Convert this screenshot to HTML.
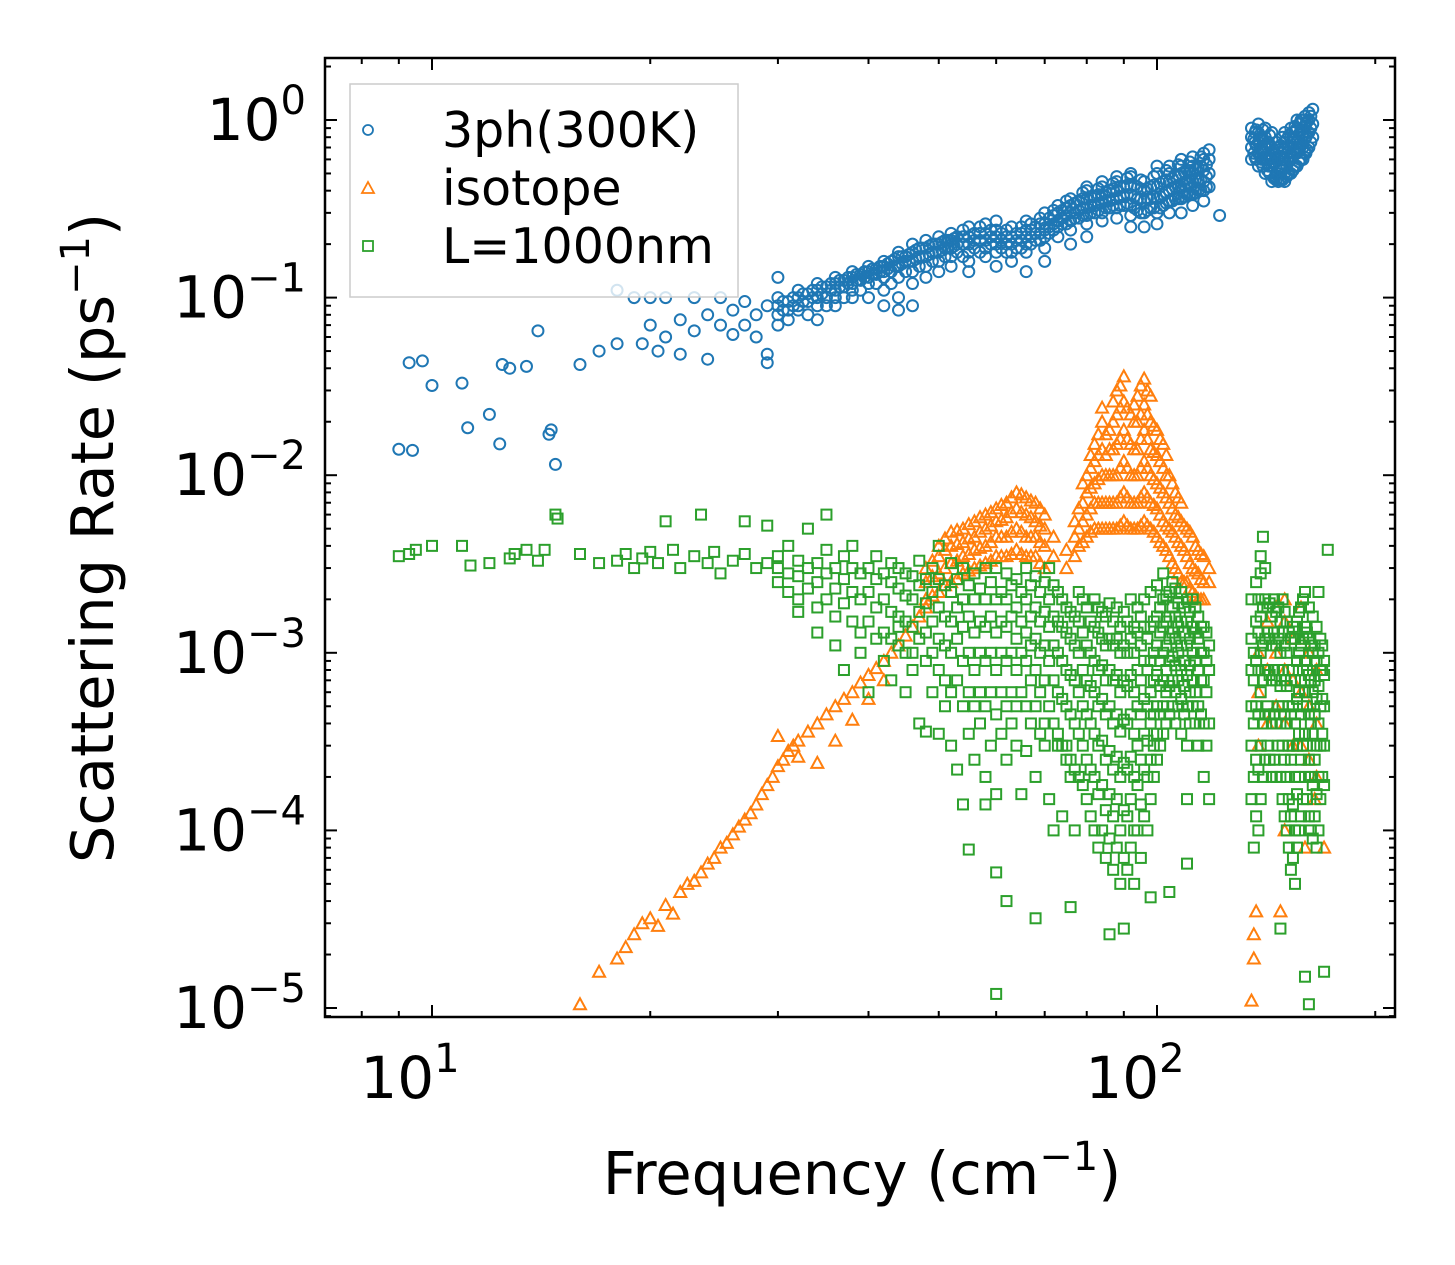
<!DOCTYPE html>
<html><head><meta charset="utf-8"><style>
body{margin:0;background:#fff;}
svg{display:block;font-family:"DejaVu Sans","Liberation Sans",sans-serif;}
</style></head><body>
<svg id="chart" width="1455" height="1265" viewBox="0 0 1455 1265" xmlns="http://www.w3.org/2000/svg">
<rect width="1455" height="1265" fill="#fff"/>
<g id="marks"></g>
<g id="axes"></g>
<g id="legend">
<rect x="350" y="84" width="388" height="213" fill="#fff" fill-opacity="0.8" stroke="#ccc" stroke-width="1.5"/>
<circle cx="368" cy="130" r="5" fill="none" stroke="#1f77b4" stroke-width="1.8"/>
<text x="442" y="147" font-size="49">3ph(300K)</text>
<polygon points="368,182 374,193 362,193" fill="none" stroke="#ff7f0e" stroke-width="1.8"/>
<text x="442" y="205" font-size="49">isotope</text>
<rect x="363" y="241" width="10" height="10" fill="none" stroke="#2ca02c" stroke-width="1.8"/>
<text x="442" y="263" font-size="49">L=1000nm</text>
</g>
<text x="862" y="1194" font-size="59" text-anchor="middle">Frequency (cm<tspan dy="-24" font-size="40">−1</tspan><tspan dy="24">)</tspan></text>
<text transform="translate(113,538) rotate(-90)" font-size="59" text-anchor="middle">Scattering Rate (ps<tspan dy="-24" font-size="40">−1</tspan><tspan dy="24">)</tspan></text>
</svg>
<script>
// Blue: 3-phonon scattering, sparse points [freq, rate]
const bluePts = [[9.0,0.014],[9.4,0.0138],[9.3,0.043],[9.7,0.044],[10,0.032],[11,0.033],[11.2,0.0185],[12,0.022],[12.5,0.042],[12.8,0.04],[12.4,0.015],[13.5,0.041],[14,0.065],[14.5,0.017],[14.6,0.018],[14.8,0.0115],[16,0.042],[17,0.05],[18,0.055],[18,0.11],[19,0.1],[19.5,0.055],[20,0.07],[20,0.1],[20.5,0.05],[21,0.1],[21,0.06],[22,0.075],[22,0.048],[23,0.065],[23,0.1],[24,0.08],[24,0.045],[25,0.07],[25,0.1],[26,0.085],[26,0.062],[27,0.07],[27,0.095],[28,0.08],[28,0.06],[29,0.09],[29,0.043],[29,0.048],[30,0.13],[122,0.29]];
// Blue dense columns: [freq, [rates...]]
const blueCols = [[30,[.08,.09,.1,.07]],[30.5,[.085,.095]],[31,[.085,.095,.075]],[31.5,[.09,.1]],[32,[.09,.1,.11,.085]],[32.5,[.095,.105]],[33,[.095,.105,.08]],[33.5,[.1,.11]],[34,[.1,.11,.12,.09,.075]],[34.5,[.105,.115]],[35,[.1,.115,.09]],[35.5,[.11,.12]],[36,[.11,.12,.13,.1,.09]],[36.5,[.115,.125]],[37,[.115,.125,.1]],[37.5,[.12,.13]],[38,[.12,.13,.14,.11,.1]],[38.5,[.125,.135]],[39,[.125,.135,.11]],[39.5,[.13,.14]],[40,[.13,.14,.15,.12,.1]],[40.5,[.135,.145]],[41,[.135,.145,.12]],[41.5,[.14,.15]],[42,[.14,.15,.16,.13,.11,.09]],[42.5,[.145,.155]],[43,[.14,.16,.12]],[43.5,[.15,.165]],[44,[.15,.17,.18,.13,.1,.085]],[44.5,[.155,.17]],[45,[.16,.17,.14]],[45.5,[.16,.175]],[46,[.16,.18,.2,.14,.12,.09]],[46.5,[.165,.185]],[47,[.17,.19,.15]],[47.5,[.17,.19]],[48,[.17,.19,.21,.15,.13]],[48.5,[.175,.195]],[49,[.18,.2,.16]],[49.5,[.18,.2]],[50,[.18,.2,.22,.16,.14]],[50.5,[.185,.205]],[51,[.19,.21,.17]],[51.5,[.19,.21]],[52,[.19,.21,.23,.17,.15]],[52.5,[.195,.215]],[53,[.2,.22,.18]],[54,[.2,.22,.24,.17]],[55,[.2,.22,.25,.18,.16,.14]],[56,[.21,.23,.19]],[57,[.21,.23,.25,.18]],[58,[.21,.23,.26,.19,.17]],[59,[.22,.24,.2]],[60,[.22,.24,.27,.2,.18,.15]],[61,[.21,.23,.19]],[62,[.2,.22,.24,.18]],[63,[.2,.22,.25,.18,.16]],[64,[.21,.23,.19]],[65,[.21,.23,.25,.19]],[66,[.22,.24,.27,.2,.18,.14]],[67,[.22,.24,.26,.2]],[68,[.23,.25,.21]],[69,[.23,.26,.28,.21]],[70,[.24,.26,.3,.22,.19,.16]],[71,[.25,.28,.23]],[72,[.26,.29,.31,.24]],[73,[.27,.3,.33,.25,.22]],[74,[.28,.31,.26]],[75,[.29,.32,.35,.26]],[76,[.3,.33,.36,.27,.24,.2]],[77,[.3,.34,.28]],[78,[.31,.35,.28]],[79,[.32,.36,.39,.29]],[80,[.32,.36,.4,.42,.29,.26,.22]],[81,[.33,.37,.3]],[82,[.33,.37,.3]],[83,[.34,.38,.41,.31]],[84,[.34,.38,.42,.45,.3,.27]],[85,[.35,.39,.32]],[86,[.35,.4,.32]],[87,[.36,.41,.44,.33]],[88,[.36,.4,.45,.48,.32,.28]],[89,[.37,.42,.33]],[90,[.37,.42,.33]],[91,[.38,.43,.47,.34]],[92,[.38,.42,.48,.5,.33,.29,.25]],[93,[.37,.43,.32]],[94,[.36,.42,.31]],[95,[.36,.41,.46,.3]],[96,[.35,.4,.45,.3,.25]],[97,[.36,.41,.31]],[98,[.36,.42,.32]],[99,[.37,.43,.48,.32]],[100,[.36,.42,.5,.55,.3,.26]],[101,[.37,.44,.32]],[102,[.38,.45,.33]],[103,[.39,.46,.52,.34]],[104,[.4,.45,.5,.55,.35,.3]],[105,[.41,.47,.35]],[106,[.42,.48,.36]],[107,[.42,.49,.56,.36]],[108,[.42,.5,.55,.6,.36,.3]],[109,[.43,.51,.37]],[110,[.44,.52,.38]],[111,[.44,.52,.58,.38]],[112,[.45,.5,.55,.62,.38,.33]],[113,[.46,.53,.39]],[114,[.46,.54,.4]],[115,[.46,.55,.62,.4]],[116,[.45,.52,.6,.65,.4,.35]],[117,[.48,.56,.42]],[118,[.5,.6,.68,.42]],
[135,[.6,.7,.8,.9]],[136,[.65,.78]],[136.5,[.62,.75,.85]],[137,[.6,.72,.88]],[138,[.55,.65,.75,.85,.95]],[139,[.58,.68,.8]],[139.5,[.6,.7,.8]],[140,[.55,.65,.78,.88]],[141,[.5,.6,.7,.8,.9]],[142,[.52,.62,.75]],[142.5,[.55,.65,.75]],[143,[.5,.6,.72,.82]],[144,[.45,.55,.7,.85]],[145,[.47,.57,.68]],[145.5,[.48,.58,.65]],[146,[.46,.55,.64,.75]],[147,[.45,.5,.6,.7]],[148,[.46,.53,.62,.72]],[148.5,[.47,.55,.65]],[149,[.46,.52,.6,.7,.8]],[150,[.45,.5,.6,.75,.85]],[151,[.48,.55,.65,.78]],[151.5,[.5,.58,.7]],[152,[.5,.6,.72,.82]],[153,[.5,.6,.7,.8,.9]],[154,[.52,.62,.75,.85]],[154.5,[.55,.65,.8]],[155,[.55,.68,.78,.92]],[156,[.55,.65,.75,.9,1.0]],[157,[.58,.68,.8,.95]],[157.5,[.6,.7,.85]],[158,[.6,.72,.88,1.0]],[159,[.6,.7,.85,1.0]],[160,[.65,.78,.92,1.05]],[160.5,[.65,.8,.95]],[161,[.68,.82,.98]],[162,[.7,.85,1.0,1.1]],[163,[.75,.9,1.05]],[164,[.8,.95,1.15]]];
// Orange: isotope scattering [freq, rate]
const orangePts = [[16,1.05e-5],[17,1.6e-5],[18,1.9e-5],[18.5,2.2e-5],[19,2.6e-5],[19.5,3e-5],[20,3.2e-5],[20.5,2.9e-5],[21,3.8e-5],[21.5,3.4e-5],[22,4.5e-5],[22.5,5e-5],[23,5.2e-5],[23.5,5.8e-5],[24,6.5e-5],[24.5,7e-5],[25,8e-5],[25.5,8.5e-5],[26,9.5e-5],[26.5,1.05e-4],[27,1.15e-4],[27.5,1.25e-4],[28,1.4e-4],[28.5,1.6e-4],[29,1.8e-4],[29.5,2e-4],[30,2.3e-4],[30.5,2.5e-4],[31,2.8e-4],[31.5,3e-4],[32,3.2e-4],[33,3.6e-4],[34,4e-4],[35,4.5e-4],[36,5e-4],[37,5.5e-4],[38,6e-4],[39,6.8e-4],[40,7.5e-4],[41,8.2e-4],[42,9e-4],[43,1e-3],[44,1.1e-3],[45,1.25e-3],[46,1.4e-3],[47,1.6e-3],[48,1.8e-3],[30,3.4e-4],[32,2.6e-4],[34,2.4e-4],[36,3.2e-4],[38,4.2e-4],[40,5.5e-4],[42,7e-4],[135,1.1e-5],[136,1.9e-5],[136,2.6e-5],[137,3.5e-5],[148,3.5e-5],[150,1e-4],[160,8e-5],[165,1.5e-4],[170,8e-5]];
// Orange dense columns: [freq, [rates...]]
const orangeCols = [[48,[2e-3,2.5e-3,3e-3]],[49,[2.1e-3,2.7e-3,3.3e-3]],[50,[2.2e-3,2.8e-3,3.5e-3,4e-3]],[51,[2.4e-3,3e-3,3.8e-3,4.4e-3]],[52,[2.5e-3,3.2e-3,4e-3,4.8e-3]],[53,[2.6e-3,3.3e-3,4.1e-3,4.9e-3]],[54,[2.8e-3,3.5e-3,4.2e-3,5e-3]],[55,[2.9e-3,3.6e-3,4.4e-3,5.3e-3]],[56,[3e-3,3.8e-3,4.5e-3,5.5e-3]],[57,[3.1e-3,3.9e-3,4.8e-3,5.8e-3]],[58,[3.2e-3,4e-3,5e-3,6e-3]],[59,[3.3e-3,4.2e-3,5.2e-3,6.2e-3]],[60,[3.5e-3,4.5e-3,5.5e-3,6.5e-3]],[61,[3.5e-3,4.5e-3,5.6e-3,6.8e-3]],[62,[3.5e-3,4.5e-3,5.8e-3,7e-3]],[63,[3.6e-3,4.8e-3,6.2e-3,7.5e-3]],[64,[3.8e-3,5e-3,6.5e-3,8e-3]],[65,[3.6e-3,4.8e-3,6.2e-3,7.8e-3]],[66,[3.5e-3,4.5e-3,6e-3,7.5e-3]],[67,[3.5e-3,4.5e-3,5.8e-3,7.2e-3]],[68,[3.5e-3,4.5e-3,5.5e-3,7e-3]],[69,[3.2e-3,4.2e-3,5.2e-3,6.5e-3]],[70,[3e-3,4e-3,5e-3,6e-3]],[72,[3.5e-3,4.5e-3]],[75,[3e-3,3.8e-3]],[77,[3.5e-3,4.5e-3,5.5e-3]],[78,[4e-3,5e-3,6.5e-3]],[79,[4.2e-3,5.5e-3,7e-3,9e-3]],[80,[4.5e-3,6e-3,8e-3,1e-2]],[81,[4.8e-3,6.5e-3,8.5e-3,1.1e-2,1.3e-2]],[82,[5e-3,7e-3,9e-3,1.2e-2,1.5e-2]],[83,[5e-3,7e-3,9.5e-3,1.3e-2,1.7e-2]],[84,[5e-3,7e-3,1e-2,1.4e-2,2e-2,2.4e-2]],[85,[5e-3,7e-3,1e-2,1.3e-2,1.7e-2]],[86,[5e-3,7e-3,1e-2,1.4e-2,1.8e-2]],[87,[5e-3,7e-3,1e-2,1.4e-2,2e-2,2.6e-2]],[88,[5e-3,7e-3,1e-2,1.5e-2,2.2e-2,3e-2]],[89,[5.2e-3,7.5e-3,1.1e-2,1.6e-2,2.4e-2,3.2e-2]],[90,[5.5e-3,8e-3,1.2e-2,1.8e-2,2.6e-2,3.6e-2]],[91,[5.2e-3,7.5e-3,1.1e-2,1.6e-2,2.4e-2]],[92,[5e-3,7e-3,1e-2,1.5e-2,2.2e-2]],[93,[5e-3,7e-3,1e-2,1.4e-2,2e-2,2.5e-2]],[94,[5e-3,7e-3,1e-2,1.4e-2,2e-2,2.8e-2]],[95,[5.2e-3,7.5e-3,1.1e-2,1.6e-2,2.2e-2,3.2e-2]],[96,[5.5e-3,8e-3,1.2e-2,1.8e-2,2.5e-2,3.5e-2]],[97,[5.2e-3,7.5e-3,1.1e-2,1.6e-2,2.2e-2,3e-2]],[98,[5e-3,7e-3,1e-2,1.4e-2,2e-2,2.8e-2]],[99,[4.8e-3,6.8e-3,9.5e-3,1.35e-2,1.9e-2]],[100,[4.5e-3,6.5e-3,9e-3,1.3e-2,1.8e-2]],[101,[4.2e-3,6e-3,8.5e-3,1.2e-2,1.6e-2]],[102,[4e-3,5.5e-3,8e-3,1.1e-2,1.5e-2]],[103,[3.8e-3,5.2e-3,7.5e-3,1e-2,1.3e-2]],[104,[3.5e-3,5e-3,7e-3,1e-2]],[105,[3.2e-3,4.8e-3,6.5e-3,9e-3]],[106,[3e-3,4.5e-3,6e-3,8e-3]],[107,[2.8e-3,4.2e-3,5.8e-3,7.5e-3]],[108,[2.5e-3,4e-3,5.5e-3,7e-3]],[109,[2.5e-3,3.8e-3,5.2e-3]],[110,[2.5e-3,3.5e-3,5e-3]],[111,[2.3e-3,3.2e-3,4.8e-3]],[112,[2.2e-3,3e-3,4.5e-3]],[113,[2.1e-3,2.9e-3,4e-3]],[114,[2e-3,2.8e-3,3.8e-3]],[115,[2e-3,2.6e-3,3.6e-3]],[116,[2e-3,2.5e-3,3.5e-3]],[118,[2.5e-3,3e-3]],
[138,[3e-4,6e-4,1e-3]],[142,[4e-4,8e-4,1.5e-3]],[146,[5e-4,1e-3,1.8e-3]],[150,[4e-4,8e-4,1.5e-3,2e-3]],[154,[3e-4,7e-4,1.2e-3]],[158,[3e-4,6e-4,1.2e-3,1.8e-3]],[162,[2.5e-4,5e-4,1e-3]],[166,[2e-4,4e-4,8e-4]]];
// Green: boundary scattering (L=1000nm) [freq, rate]
const greenPts = [[9,3.5e-3],[9.3,3.6e-3],[9.5,3.8e-3],[10,4e-3],[11,4e-3],[11.3,3.1e-3],[12,3.2e-3],[12.8,3.4e-3],[13,3.6e-3],[13.5,3.8e-3],[14,3.3e-3],[14.3,3.8e-3],[14.8,6e-3],[14.9,5.7e-3],[16,3.6e-3],[17,3.2e-3],[18,3.3e-3],[18.5,3.6e-3],[19,3e-3],[19.5,3.4e-3],[20,3.7e-3],[20.5,3.2e-3],[21,5.5e-3],[21.5,3.8e-3],[22,3e-3],[23,3.5e-3],[23.5,6e-3],[24,3.2e-3],[24.5,3.7e-3],[25,2.8e-3],[26,3.3e-3],[27,3.6e-3],[27,5.5e-3],[28,3e-3],[29,3.2e-3],[29,5.2e-3],[60,1.2e-5],[55,7.8e-5],[62,4e-5],[68,3.2e-5],[58,1.4e-4],[60,5.8e-5],[76,3.7e-5],[86,2.6e-5],[90,2.8e-5],[98,4.2e-5],[104,4.5e-5],[110,6.5e-5],[110,1.5e-4],[148,2.8e-5],[160,1.5e-5],[170,1.6e-5],[162,1.05e-5],[140,4.5e-3],[172,3.8e-3],[139,3.5e-3]];
// Green dense columns: [freq, [rates...]]
const greenCols = [[30,[2.5e-3,3e-3,3.5e-3]],[31,[2.2e-3,2.8e-3,4e-3]],[32,[2e-3,2.7e-3,3.3e-3,1.7e-3]],[33,[2.3e-3,3e-3,5e-3]],[34,[1.8e-3,2.5e-3,3.2e-3,1.3e-3]],[35,[2e-3,2.8e-3,3.8e-3,6e-3]],[36,[1.6e-3,2.3e-3,3e-3,1.1e-3]],[37,[1.9e-3,2.6e-3,3.5e-3,8e-4]],[38,[1.5e-3,2.2e-3,3e-3,4e-3]],[39,[1.3e-3,2e-3,2.8e-3,1e-3]],[40,[1.5e-3,2.2e-3,3e-3,6e-4]],[41,[1.2e-3,1.8e-3,2.6e-3,3.5e-3]],[42,[1.3e-3,2e-3,2.8e-3,9e-4]],[43,[1.2e-3,1.7e-3,2.5e-3,3.2e-3,7e-4]],[44,[1.1e-3,1.6e-3,2.3e-3,3e-3,1.4e-3]],[45,[1e-3,1.5e-3,2.1e-3,2.8e-3,6e-4]],[46,[1e-3,1.4e-3,2e-3,2.7e-3,8e-4]],[47,[1.2e-3,1.7e-3,2.4e-3,3.3e-3,4e-4]],[48,[9e-4,1.3e-3,1.9e-3,2.6e-3,3.6e-4]],[49,[1e-3,1.5e-3,2.2e-3,3e-3,6e-4]],[50,[8e-4,1.2e-3,1.8e-3,2.6e-3,4e-3,3.5e-4]],[51,[7e-4,1.1e-3,1.6e-3,2.4e-3,5e-4]],[52,[6e-4,1e-3,1.5e-3,2.2e-3,3.2e-3,3e-4]],[53,[7e-4,1.2e-3,1.8e-3,2.6e-3,2.2e-4]],[54,[5e-4,9e-4,1.4e-3,2e-3,3e-3,1.4e-4]],[55,[6e-4,1e-3,1.6e-3,2.4e-3,3.5e-4]],[56,[5e-4,8e-4,1.3e-3,2e-3,2.8e-3,2.5e-4]],[57,[6e-4,1e-3,1.5e-3,2.3e-3,4e-4]],[58,[5e-4,9e-4,1.4e-3,2e-3,3e-3,2e-4]],[59,[6e-4,1e-3,1.6e-3,2.5e-3,3e-4]],[60,[4.5e-4,8e-4,1.3e-3,2e-3,3e-3,1.6e-4]],[61,[6e-4,1e-3,1.5e-3,2.2e-3,3.5e-4]],[62,[5e-4,9e-4,1.4e-3,2e-3,2.8e-3,2.5e-4]],[63,[6e-4,1e-3,1.6e-3,2.4e-3,4e-4]],[64,[5e-4,8e-4,1.2e-3,1.8e-3,2.6e-3,3e-4]],[65,[6e-4,1e-3,1.5e-3,2.2e-3,1.6e-4]],[66,[5e-4,9e-4,1.3e-3,2e-3,3e-3,2.8e-4]],[67,[7e-4,1.1e-3,1.6e-3,2.4e-3,4e-4]],[68,[5e-4,8e-4,1.2e-3,1.8e-3,2.7e-3,2e-4]],[69,[6e-4,1e-3,1.5e-3,2.2e-3,3.5e-4]],[70,[4e-4,7e-4,1.1e-3,1.7e-3,2.5e-3,3e-4]],[71,[5e-4,9e-4,1.4e-3,2e-3,3e-3,1.5e-4]],[72,[4e-4,7e-4,1.1e-3,1.6e-3,2.4e-3,1e-4]],[73,[3.5e-4,6e-4,1e-3,1.5e-3,2.2e-3,3e-4]],[74,[3e-4,5.5e-4,9e-4,1.4e-3,2e-3,1.2e-4]],[75,[3e-4,5e-4,8e-4,1.3e-3,1.8e-3,2.5e-4]],[76,[2.5e-4,4.5e-4,7.5e-4,1.2e-3,1.7e-3,2e-4]],[77,[2.2e-4,4e-4,7e-4,1.1e-3,1.6e-3,1e-4]],[78,[2e-4,3.5e-4,6e-4,1e-3,1.5e-3,2.2e-3]],[79,[1.8e-4,3e-4,5e-4,8e-4,1.3e-3,2e-3]],[80,[1.5e-4,2.5e-4,4.5e-4,7e-4,1.1e-3,1.8e-3]],[81,[1.2e-4,2.2e-4,4e-4,6.5e-4,1e-3,1.5e-3]],[82,[1e-4,2e-4,3.5e-4,6e-4,9e-4,1.4e-3,2e-3]],[83,[8e-5,1.6e-4,3e-4,5e-4,8e-4,1.3e-3,1.8e-3]],[84,[1e-4,1.8e-4,3.2e-4,5.5e-4,8.5e-4,1.2e-3,1.7e-3]],[85,[7e-5,1.3e-4,2.5e-4,4.5e-4,7e-4,1.1e-3,1.6e-3]],[86,[9e-5,1.6e-4,2.8e-4,5e-4,8e-4,1.2e-3,1.9e-3]],[87,[6e-5,1.2e-4,2.2e-4,4e-4,7e-4,1.1e-3,1.5e-3]],[88,[8e-5,1.5e-4,2.6e-4,4.5e-4,7.5e-4,1.2e-3,1.8e-3]],[89,[5e-5,1e-4,2e-4,3.6e-4,6e-4,1e-3,1.4e-3]],[90,[7e-5,1.3e-4,2.4e-4,4.2e-4,7e-4,1.1e-3,1.7e-3]],[91,[6e-5,1.2e-4,2.2e-4,4e-4,6.5e-4,1e-3,1.5e-3]],[92,[8e-5,1.5e-4,2.6e-4,4.5e-4,7.5e-4,1.2e-3,2e-3]],[93,[5e-5,1e-4,2e-4,3.5e-4,6e-4,1e-3,1.4e-3]],[94,[1e-4,1.8e-4,3e-4,5e-4,8e-4,1.3e-3,1.8e-3]],[95,[7e-5,1.4e-4,2.5e-4,4.5e-4,7e-4,1.1e-3,1.6e-3]],[96,[1.2e-4,2.2e-4,3.5e-4,5.5e-4,9e-4,1.4e-3,2e-3]],[97,[1e-4,2e-4,3.2e-4,5e-4,8e-4,1.2e-3]],[98,[1.5e-4,2.5e-4,4e-4,6e-4,9e-4,1.4e-3,2.2e-3]],[99,[2e-4,3e-4,4.5e-4,7e-4,1e-3,1.5e-3]],[100,[2.5e-4,3.5e-4,5e-4,7.5e-4,1.1e-3,1.6e-3,2.4e-3]],[101,[3e-4,4.5e-4,6.5e-4,9e-4,1.3e-3,1.8e-3]],[102,[3.5e-4,5e-4,7e-4,1e-3,1.4e-3,2e-3,2.8e-3]],[103,[4e-4,6e-4,8e-4,1.1e-3,1.5e-3,2.1e-3]],[104,[4.5e-4,6.5e-4,9e-4,1.2e-3,1.6e-3,2.2e-3]],[105,[5e-4,7e-4,9.5e-4,1.3e-3,1.8e-3,2.5e-3]],[106,[4e-4,6e-4,8.5e-4,1.2e-3,1.6e-3,2.3e-3]],[107,[5e-4,7e-4,1e-3,1.4e-3,1.9e-3]],[108,[3.5e-4,5.5e-4,8e-4,1.1e-3,1.5e-3,2.2e-3]],[109,[4.5e-4,6.5e-4,9e-4,1.3e-3,1.8e-3]],[110,[3e-4,5e-4,7.5e-4,1.1e-3,1.5e-3,2e-3]],[111,[4e-4,6e-4,8.5e-4,1.2e-3,1.7e-3]],[112,[5e-4,7e-4,1e-3,1.4e-3,2e-3]],[113,[4e-4,6e-4,9e-4,1.3e-3,1.8e-3]],[114,[3e-4,5e-4,8e-4,1.2e-3,1.6e-3]],[115,[4.5e-4,7e-4,1e-3,1.4e-3]],[116,[2e-4,4e-4,7e-4,1e-3,1.4e-3]],[117,[3e-4,6e-4,9e-4,1.3e-3]],[118,[1.5e-4,4e-4,8e-4,1.1e-3]],
[135,[1.5e-4,3e-4,5e-4,8e-4,1.2e-3,2e-3]],[136,[8e-5,2e-4,4e-4,7e-4,1e-3]],[137,[1.2e-4,2.5e-4,5e-4,9e-4,1.5e-3,2.5e-3]],[138,[1e-4,2.2e-4,4.5e-4,8e-4,1.3e-3,2e-3]],[139,[1.5e-4,3e-4,6e-4,1e-3,1.6e-3,2.8e-3]],[140,[2e-4,4e-4,7e-4,1.1e-3,1.8e-3]],[141,[2.5e-4,4.5e-4,8e-4,1.2e-3,2e-3,3e-3]],[142,[3e-4,5e-4,8e-4,1.3e-3,1.8e-3]],[143,[2.5e-4,4.5e-4,7.5e-4,1.2e-3,1.9e-3]],[144,[2e-4,4e-4,7e-4,1.1e-3,1.6e-3]],[145,[2.5e-4,4.5e-4,8e-4,1.3e-3,2e-3]],[146,[2e-4,4e-4,7e-4,1.1e-3,1.7e-3]],[147,[3e-4,5e-4,8e-4,1.2e-3,1.8e-3]],[148,[2e-4,4e-4,6.5e-4,1e-3,1.5e-3]],[149,[1.5e-4,3e-4,5e-4,8e-4,1.3e-3,2e-3]],[150,[1.2e-4,2.5e-4,4.5e-4,7e-4,1.1e-3,1.7e-3]],[151,[1e-4,2e-4,4e-4,6.5e-4,1e-3,1.5e-3]],[152,[8e-5,1.5e-4,3e-4,5e-4,8e-4,1.3e-3]],[153,[6e-5,1.2e-4,2.5e-4,4.5e-4,7e-4,1.2e-3]],[154,[7e-5,1.4e-4,3e-4,5e-4,8e-4,1.4e-3]],[155,[5e-5,1e-4,2e-4,4e-4,7e-4,1.2e-3]],[156,[8e-5,1.6e-4,3e-4,5.5e-4,9e-4,1.5e-3]],[157,[1e-4,2e-4,3.5e-4,6e-4,1e-3,1.7e-3]],[158,[1.2e-4,2.5e-4,4.5e-4,7e-4,1.1e-3,1.8e-3]],[159,[1.5e-4,3e-4,5e-4,8e-4,1.2e-3,2e-3]],[160,[2e-4,3.5e-4,6e-4,9e-4,1.4e-3,2.2e-3]],[161,[1.5e-4,3e-4,5e-4,8e-4,1.3e-3]],[162,[1.2e-4,2.5e-4,4.5e-4,7.5e-4,1.2e-3,1.8e-3]],[163,[1e-4,2e-4,4e-4,7e-4,1.1e-3]],[164,[9e-5,1.8e-4,3.5e-4,6e-4,1e-3,1.6e-3]],[165,[1.2e-4,2.5e-4,4.5e-4,7e-4,1.1e-3]],[166,[8e-5,1.6e-4,3e-4,5.5e-4,9e-4,1.4e-3]],[167,[1e-4,2e-4,4e-4,6.5e-4,1e-3,2.2e-3]],[168,[1.5e-4,3e-4,5e-4,8e-4,1.2e-3]],[169,[2e-4,3.5e-4,5.5e-4,8e-4,1.1e-3]],[170,[1.8e-4,3e-4,5e-4,7.5e-4,9e-4]]];
const xTickVals = [10,100];
const xTickLabels = ["1","2"];
const yTickVals = [1,0.1,0.01,0.001,1e-4,1e-5];
const yTickLabels = ["0","−1","−2","−3","−4","−5"];

const NS="http://www.w3.org/2000/svg";
const L=325,R=1395,T=58,B=1017;
function X(f){return 432+725*(Math.log10(f)-1);}
function Y(r){return 120-177.6*Math.log10(r);}
const marks=document.getElementById('marks');
const axes=document.getElementById('axes');
function mk(tag,attrs,parent){const e=document.createElementNS(NS,tag);for(const k in attrs)e.setAttribute(k,attrs[k]);parent.appendChild(e);return e;}
function expand(pts,cols){const out=pts.slice();cols.forEach(c=>c[1].forEach(v=>out.push([c[0],v])));return out;}

expand(bluePts,blueCols).forEach(p=>{
  const e=mk('circle',{cx:X(p[0]),cy:Y(p[1]),r:5.5,fill:'none',stroke:'#1f77b4','stroke-width':2},marks);
  
  
});
expand(orangePts,orangeCols).forEach(p=>{
  const x=X(p[0]),y=Y(p[1]);
  const e=mk('polygon',{points:`${x},${y-6} ${x+6},${y+5} ${x-6},${y+5}`,fill:'none',stroke:'#ff7f0e','stroke-width':2},marks);
  
  
});
expand(greenPts,greenCols).forEach(p=>{
  const e=mk('rect',{x:X(p[0])-5,y:Y(p[1])-5,width:10,height:10,fill:'none',stroke:'#2ca02c','stroke-width':2},marks);
  
  
});

const fr=mk('rect',{x:L,y:T,width:R-L,height:B-T,fill:'none',stroke:'#000','stroke-width':2.5},axes);


const xs=[8,9,10,20,30,40,50,60,70,80,90,100,200];
xs.forEach(v=>{
  const x=X(v);const major=(v===10||v===100);const len=major?12:6;
  mk('line',{x1:x,y1:B,x2:x,y2:B-len,stroke:'#000','stroke-width':2},axes);
  mk('line',{x1:x,y1:T,x2:x,y2:T+len,stroke:'#000','stroke-width':2},axes);
});
xTickVals.forEach((v,i)=>{
  const t=mk('text',{x:X(v)-22,y:1098,'font-size':58,'text-anchor':'middle'},axes);
  t.innerHTML='10<tspan dy="-26" font-size="40">'+xTickLabels[i]+'</tspan>';
  
  
});
for(let d=-6;d<=0;d++){for(let m=1;m<=9;m++){const v=m*Math.pow(10,d);const y=Y(v);if(y<T||y>B)continue;const len=m===1?12:6;
  mk('line',{x1:L,y1:y,x2:L+len,y2:y,stroke:'#000','stroke-width':2},axes);
  mk('line',{x1:R,y1:y,x2:R-len,y2:y,stroke:'#000','stroke-width':2},axes);}}
yTickVals.forEach((v,i)=>{
  const t=mk('text',{x:306,y:Y(v)+20,'font-size':58,'text-anchor':'end'},axes);
  t.innerHTML='10<tspan dy="-26" font-size="40">'+yTickLabels[i]+'</tspan>';
  
  
});
</script>
</body></html>
